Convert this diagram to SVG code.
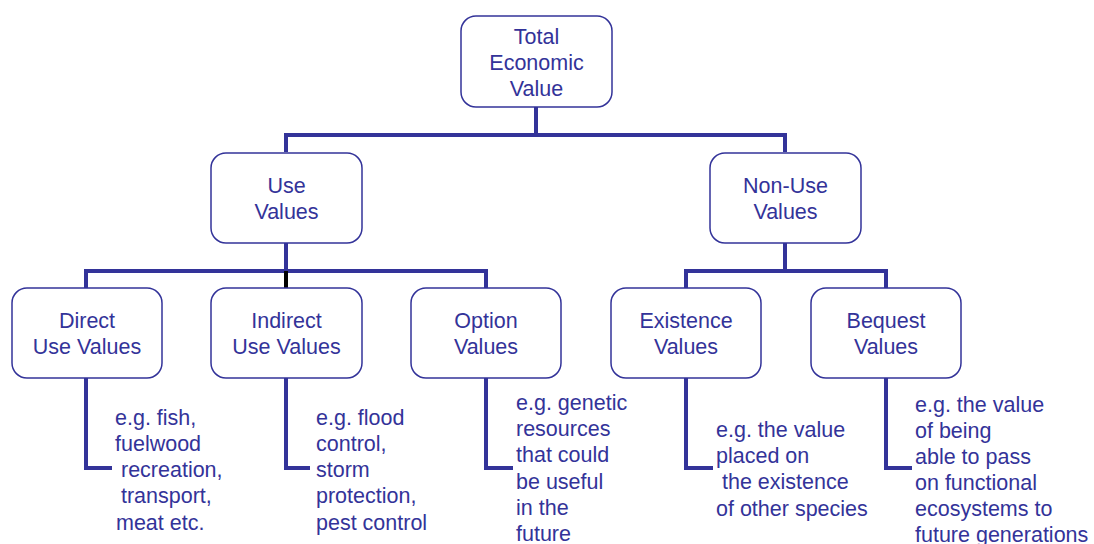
<svg xmlns="http://www.w3.org/2000/svg" width="1094" height="544" viewBox="0 0 1094 544">
<style>
.box{fill:#fff;stroke:#333399;stroke-width:1.5}
.lbl{font-family:"Liberation Sans",Arial,sans-serif;font-size:21.5px;fill:#333399;text-anchor:middle}
.ann{font-family:"Liberation Sans",Arial,sans-serif;font-size:21.5px;fill:#333399;white-space:pre}
.con{fill:none;stroke:#333399;stroke-width:4}
</style>
<rect width="1094" height="544" fill="#fff"/>
<g id="connectors">
<path class="con" d="M536,107V135M286,152V135H785V152"/>
<path class="con" d="M286,243V271M86,288V271H486V288"/>
<path d="M286,271V288" stroke="#000" stroke-width="4"/>
<path class="con" d="M785,243V271M686,288V271H886V288"/>
<path class="con" d="M86,378V468H112"/>
<path class="con" d="M286,378V468H310"/>
<path class="con" d="M486,378V468H513"/>
<path class="con" d="M686,378V468H713"/>
<path class="con" d="M886,378V468H912"/>
</g>
<g id="total"><rect class="box" x="461" y="16" width="151" height="91" rx="15"/>
<text class="lbl" x="536.5" y="44">Total</text><text class="lbl" x="536.5" y="70">Economic</text><text class="lbl" x="536.5" y="96">Value</text></g>
<g id="use"><rect class="box" x="211" y="153" width="151" height="90" rx="15"/>
<text class="lbl" x="286.5" y="193">Use</text><text class="lbl" x="286.5" y="219">Values</text></g>
<g id="nonuse"><rect class="box" x="710" y="153" width="151" height="90" rx="15"/>
<text class="lbl" x="785.5" y="193">Non-Use</text><text class="lbl" x="785.5" y="219">Values</text></g>
<g id="direct"><rect class="box" x="12" y="288" width="150" height="90" rx="15"/>
<text class="lbl" x="87" y="328">Direct</text><text class="lbl" x="87" y="354">Use Values</text></g>
<g id="indirect"><rect class="box" x="211" y="288" width="151" height="90" rx="15"/>
<text class="lbl" x="286.5" y="328">Indirect</text><text class="lbl" x="286.5" y="354">Use Values</text></g>
<g id="option"><rect class="box" x="411" y="288" width="150" height="90" rx="15"/>
<text class="lbl" x="486" y="328">Option</text><text class="lbl" x="486" y="354">Values</text></g>
<g id="existence"><rect class="box" x="611" y="288" width="150" height="90" rx="15"/>
<text class="lbl" x="686" y="328">Existence</text><text class="lbl" x="686" y="354">Values</text></g>
<g id="bequest"><rect class="box" x="811" y="288" width="150" height="90" rx="15"/>
<text class="lbl" x="886" y="328">Bequest</text><text class="lbl" x="886" y="354">Values</text></g>
<g id="direct-ex">
<text class="ann" x="115" y="425">e.g. fish,</text><text class="ann" x="115" y="451">fuelwood</text><text class="ann" x="115" y="477"> recreation,</text><text class="ann" x="115" y="503"> transport,</text><text class="ann" x="116" y="530">meat etc.</text></g>
<g id="indirect-ex">
<text class="ann" x="316" y="425">e.g. flood</text><text class="ann" x="316" y="451">control,</text><text class="ann" x="316" y="477">storm</text><text class="ann" x="316" y="503">protection,</text><text class="ann" x="316" y="530">pest control</text></g>
<g id="option-ex">
<text class="ann" x="516" y="410">e.g. genetic</text><text class="ann" x="516" y="436">resources</text><text class="ann" x="516" y="462">that could</text><text class="ann" x="516" y="489">be useful</text><text class="ann" x="516" y="515">in the</text><text class="ann" x="516" y="541">future</text></g>
<g id="existence-ex">
<text class="ann" x="716" y="437">e.g. the value</text><text class="ann" x="716" y="463">placed on</text><text class="ann" x="716" y="489"> the existence</text><text class="ann" x="716" y="516">of other species</text></g>
<g id="bequest-ex">
<text class="ann" x="915" y="412">e.g. the value</text><text class="ann" x="915" y="438">of being</text><text class="ann" x="915" y="464">able to pass</text><text class="ann" x="915" y="490">on functional</text><text class="ann" x="915" y="516">ecosystems to</text><text class="ann" x="915" y="542">future generations</text></g>
</svg>
